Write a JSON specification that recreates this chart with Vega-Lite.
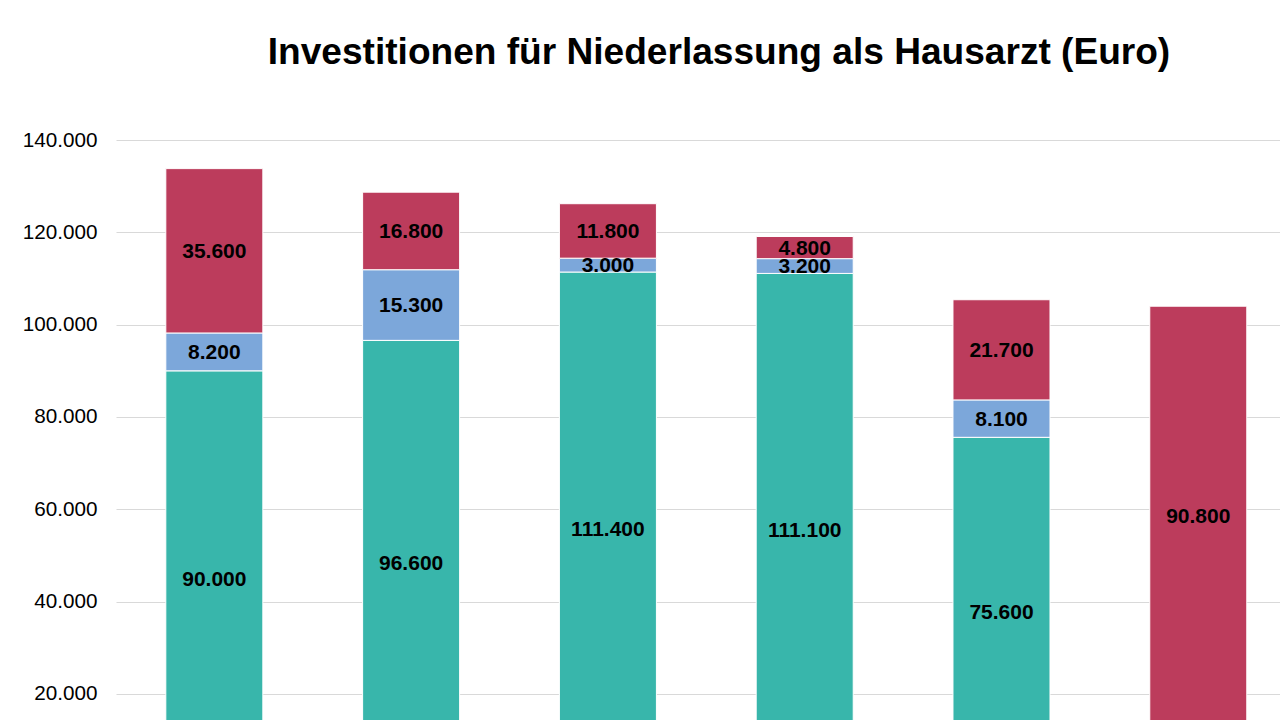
{
  "$schema": "https://vega.github.io/schema/vega-lite/v6.json",
  "autosize": {"type": "none"},
  "padding": {"left": 116, "top": 140, "right": 0, "bottom": 0},
  "width": 1164,
  "height": 580,
  "background": "white",
  "config": {
    "locale": {"number": {"decimal": ",", "thousands": ".", "grouping": [3], "currency": ["", " €"]}},
    "view": {"stroke": null},
    "font": "Liberation Sans",
    "axis": {"labelFont": "Liberation Sans", "titleFont": "Liberation Sans"}
  },
  "title": {
    "text": "Investitionen für Niederlassung als Hausarzt (Euro)",
    "font": "Liberation Sans",
    "fontSize": 37.1,
    "fontWeight": "bold",
    "color": "#000000",
    "anchor": "middle",
    "frame": "group",
    "dx": 21,
    "baseline": "alphabetic",
    "offset": 28
  },
  "data": {
    "values": [
      {"kategorie": "Einzelpraxisübernahme", "serie": "Kaufpreis", "wert": 90000},
      {"kategorie": "Einzelpraxisübernahme", "serie": "Modernisierung", "wert": 8200},
      {"kategorie": "Einzelpraxisübernahme", "serie": "Neuinvestitionen", "wert": 35600},
      {"kategorie": "Übernahme BAG", "serie": "Kaufpreis", "wert": 96600},
      {"kategorie": "Übernahme BAG", "serie": "Modernisierung", "wert": 15300},
      {"kategorie": "Übernahme BAG", "serie": "Neuinvestitionen", "wert": 16800},
      {"kategorie": "Beitritt BAG", "serie": "Kaufpreis", "wert": 111400},
      {"kategorie": "Beitritt BAG", "serie": "Modernisierung", "wert": 3000},
      {"kategorie": "Beitritt BAG", "serie": "Neuinvestitionen", "wert": 11800},
      {"kategorie": "Einstieg BAG", "serie": "Kaufpreis", "wert": 111100},
      {"kategorie": "Einstieg BAG", "serie": "Modernisierung", "wert": 3200},
      {"kategorie": "Einstieg BAG", "serie": "Neuinvestitionen", "wert": 4800},
      {"kategorie": "Überführung", "serie": "Kaufpreis", "wert": 75600},
      {"kategorie": "Überführung", "serie": "Modernisierung", "wert": 8100},
      {"kategorie": "Überführung", "serie": "Neuinvestitionen", "wert": 21700},
      {"kategorie": "Neugründung", "serie": "Kaufpreis", "wert": 13200},
      {"kategorie": "Neugründung", "serie": "Neuinvestitionen", "wert": 90800}
    ]
  },
  "transform": [
    {"stack": "wert", "groupby": ["kategorie"], "sort": [{"field": "serie", "order": "ascending"}], "as": ["y0", "y1"]}
  ],
  "encoding": {
    "x": {
      "field": "kategorie",
      "type": "nominal",
      "sort": null,
      "scale": {"paddingInner": 0.507, "paddingOuter": 0.211, "align": 0.6},
      "axis": null
    }
  },
  "layer": [
    {
      "mark": {"type": "bar", "clip": true, "stroke": "#ffffff", "strokeWidth": 1},
      "encoding": {
        "y": {
          "field": "y1",
          "type": "quantitative",
          "scale": {"domain": [14368, 140000], "zero": false, "nice": false},
          "axis": {
            "title": null,
            "values": [20000, 40000, 60000, 80000, 100000, 120000, 140000],
            "format": ",.0f",
            "domain": false,
            "ticks": false,
            "labelPadding": 19,
            "labelFontSize": 20.7,
            "labelColor": "#000000",
            "gridColor": "#D9D9D9",
            "gridWidth": 1
          }
        },
        "y2": {"field": "y0"},
        "color": {
          "field": "serie",
          "type": "nominal",
          "scale": {"domain": ["Kaufpreis", "Modernisierung", "Neuinvestitionen"], "range": ["#38B6AB", "#7CA7DA", "#BC3C5C"]},
          "legend": null
        }
      }
    },
    {
      "transform": [
        {"fold": ["y0", "y1"], "as": ["ende", "pos"]},
        {"aggregate": [{"op": "mean", "field": "pos", "as": "mitte"}], "groupby": ["kategorie", "serie", "wert"]},
        {"filter": {"field": "mitte", "gte": 14368}}
      ],
      "mark": {"type": "text", "clip": true, "font": "Liberation Sans", "fontWeight": "bold", "fontSize": 21, "color": "#000000", "baseline": "middle", "align": "center", "dy": 1},
      "encoding": {
        "y": {"field": "mitte", "type": "quantitative"},
        "text": {"field": "wert", "type": "quantitative", "format": ",.0f"}
      }
    }
  ]
}
